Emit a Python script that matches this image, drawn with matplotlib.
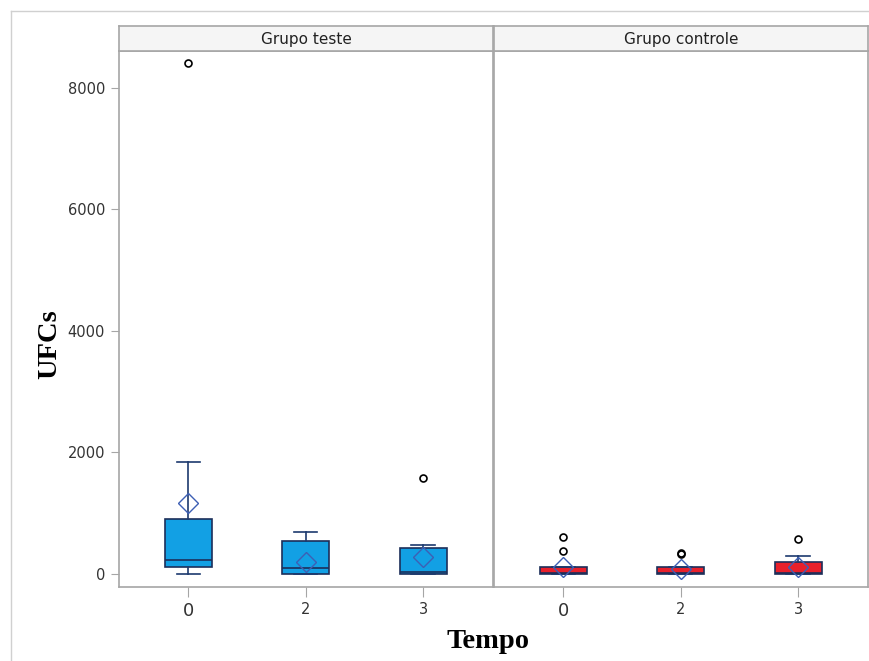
import matplotlib.pyplot as plt
from matplotlib.lines import Line2D

# tempos e grupos
tempos = ["0", "2", "3"]
grupos = ["Grupo teste", "Grupo controle"]

# estatisticas (UFCs)
teste_q1 = [115, 0, 0]
teste_med = [230, 93, 38]
teste_q3 = [905, 543, 433]
teste_whislo = [0, 0, 0]
teste_whishi = [1849, 697, 472]
teste_mean = [1174, 203, 274]
teste_fliers = [[8410], [], [1580]]

ctrl_q1 = [0, 0, 0]
ctrl_med = [15, 10, 10]
ctrl_q3 = [120, 120, 192]
ctrl_whislo = [0, 0, 0]
ctrl_whishi = [120, 120, 302]
ctrl_mean = [110, 90, 120]
ctrl_fliers = [[384, 614], [330, 345], [580]]

cores = ["#12a0e4", "#e8202b"]
yticks = [0, 2000, 4000, 6000, 8000]


def make_stats(q1, med, q3, lo, hi, mean, fl):
    out = []
    for i in range(len(q1)):
        out.append(dict(q1=q1[i], med=med[i], q3=q3[i], whislo=lo[i],
                        whishi=hi[i], mean=mean[i], fliers=fl[i]))
    return out


stats = [
    make_stats(teste_q1, teste_med, teste_q3, teste_whislo, teste_whishi, teste_mean, teste_fliers),
    make_stats(ctrl_q1, ctrl_med, ctrl_q3, ctrl_whislo, ctrl_whishi, ctrl_mean, ctrl_fliers),
]

fig = plt.figure(figsize=(8.7, 6.61), dpi=100)
gray = "#a6a6a6"

# moldura externa
fig.add_artist(Line2D([11 / 870, 11 / 870], [0, 1 - 11 / 661], color="#d0d0d0", lw=1))
fig.add_artist(Line2D([11 / 870, 1], [1 - 11 / 661, 1 - 11 / 661], color="#d0d0d0", lw=1))

lefts = [119 / 870, 494 / 870]
width = 374.5 / 870
bottom = 1 - 587 / 661
height = (587 - 51) / 661
strip_h = 25 / 661

for k in range(2):
    ax = fig.add_axes([lefts[k], bottom, width, height])
    ax.bxp(stats[k], positions=range(len(tempos)), widths=0.4, showmeans=True,
           patch_artist=True, capwidths=0.2,
           boxprops=dict(facecolor=cores[k], edgecolor="#1c2f5a", lw=1.2),
           medianprops=dict(color="#1c2f5a", lw=1.2),
           whiskerprops=dict(color="#1c3a6e", lw=1.2),
           capprops=dict(color="#1c3a6e", lw=1.2),
           meanprops=dict(marker="D", markerfacecolor="none", markeredgecolor="#3d5fb4",
                          markersize=10, markeredgewidth=1.0),
           flierprops=dict(marker="o", markerfacecolor="none", markeredgecolor="black",
                           markersize=5, markeredgewidth=1.2))
    ax.set_xlim(-0.59, 2.6)
    ax.set_ylim(-214, 8609)
    for s in ax.spines.values():
        s.set_color(gray)
        s.set_linewidth(1.2)
    ax.set_xticks(range(len(tempos)))
    ax.set_xticklabels(tempos)
    for i, lab in enumerate(ax.get_xticklabels()):
        lab.set_fontsize(13 if i == 0 else 10.5)
    ax.tick_params(axis="x", color=gray, length=7, pad=4, labelcolor="#333333")
    if k == 0:
        ax.set_yticks(yticks)
        ax.set_yticklabels([str(v) for v in yticks])
        ax.tick_params(axis="y", color=gray, length=6, pad=4, labelsize=10.5, labelcolor="#333333")
    else:
        ax.set_yticks([])

    sx = fig.add_axes([lefts[k], bottom + height, width, strip_h])
    sx.set_facecolor("#f5f5f5")
    sx.set_xticks([])
    sx.set_yticks([])
    for s in sx.spines.values():
        s.set_color(gray)
        s.set_linewidth(1.2)
    sx.text(0.5, 0.45, grupos[k], ha="center", va="center", fontsize=11, color="#222222",
            transform=sx.transAxes)

fig.text(50 / 870, 1 - 344 / 661, "UFCs", ha="center", va="center", rotation=90,
         family="Liberation Serif", fontweight="bold", fontsize=20.5)
fig.text(488 / 870, 1 - 642 / 661, "Tempo", ha="center", va="center",
         family="Liberation Serif", fontweight="bold", fontsize=20.5)

fig.savefig("out.png", dpi=100)
